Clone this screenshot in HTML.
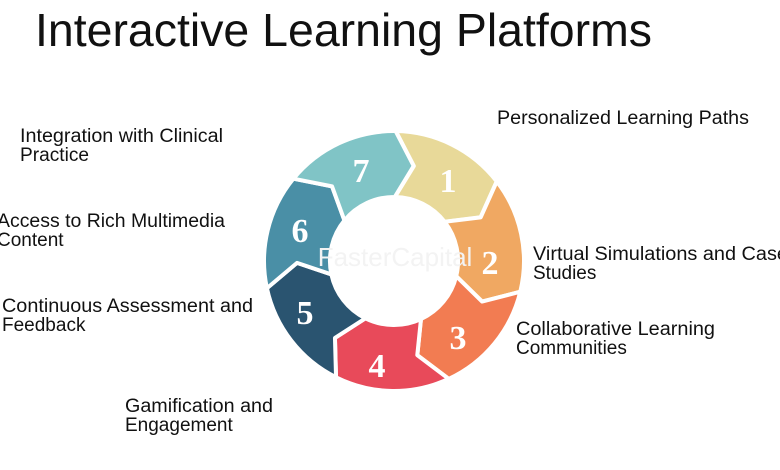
<!DOCTYPE html>
<html><head><meta charset="utf-8"><style>
html,body{margin:0;padding:0;background:#fff;}
svg{display:block;}
text{font-family:"Liberation Sans",sans-serif;fill:#111;}
.n{fill:#fff;font-family:"Liberation Serif",serif;font-weight:bold;}
</style></head><body>
<svg width="780" height="470" viewBox="0 0 780 470" xmlns="http://www.w3.org/2000/svg">
<defs>
<path id="seg" d="M117.1,-56.4 A130,130 0 0 1 117.1,56.4 L77.8,58.0 L57.7,27.8 A64,64 0 0 0 57.7,-27.8 L93.8,-24.6 Z"/>
</defs>
<text x="35" y="46" font-size="46" textLength="617" lengthAdjust="spacingAndGlyphs">Interactive Learning Platforms</text>
<g font-size="19">
<text x="497" y="124" textLength="252" lengthAdjust="spacingAndGlyphs">Personalized Learning Paths</text>
<text x="20" y="142" textLength="203" lengthAdjust="spacingAndGlyphs">Integration with Clinical</text>
<text x="20" y="161" textLength="69" lengthAdjust="spacingAndGlyphs">Practice</text>
<text x="-3" y="227" textLength="228" lengthAdjust="spacingAndGlyphs">Access to Rich Multimedia</text>
<text x="-3" y="246">Content</text>
<text x="533" y="260" textLength="255" lengthAdjust="spacingAndGlyphs">Virtual Simulations and Case</text>
<text x="533" y="279">Studies</text>
<text x="2" y="312" textLength="251" lengthAdjust="spacingAndGlyphs">Continuous Assessment and</text>
<text x="2" y="331">Feedback</text>
<text x="516" y="335" textLength="199" lengthAdjust="spacingAndGlyphs">Collaborative Learning</text>
<text x="516" y="354">Communities</text>
<text x="125" y="412" textLength="148" lengthAdjust="spacingAndGlyphs">Gamification and</text>
<text x="125" y="431">Engagement</text>
</g>
<g transform="translate(394 261)" stroke="#fff" stroke-width="4" stroke-linejoin="round">
<use href="#seg" fill="#e8d999" transform="rotate(-63.5)"/>
<use href="#seg" fill="#f0a862" transform="rotate(-12)"/>
<use href="#seg" fill="#f27c52" transform="rotate(39.4)"/>
<use href="#seg" fill="#e84a5a" transform="rotate(90.8)"/>
<use href="#seg" fill="#2a5470" transform="rotate(142.2)"/>
<use href="#seg" fill="#4a8fa6" transform="rotate(193.6)"/>
<use href="#seg" fill="#80c4c6" transform="rotate(245)"/>
</g>
<g font-size="34" text-anchor="middle">
<text class="n" x="448" y="192">1</text>
<text class="n" x="490" y="274">2</text>
<text class="n" x="458" y="349">3</text>
<text class="n" x="377" y="377">4</text>
<text class="n" x="305" y="324">5</text>
<text class="n" x="300" y="242">6</text>
<text class="n" x="361" y="182">7</text>
</g>
<text x="395" y="266" font-size="26" text-anchor="middle" style="fill:#f3f3f3">FasterCapital</text>
</svg>
</body></html>
